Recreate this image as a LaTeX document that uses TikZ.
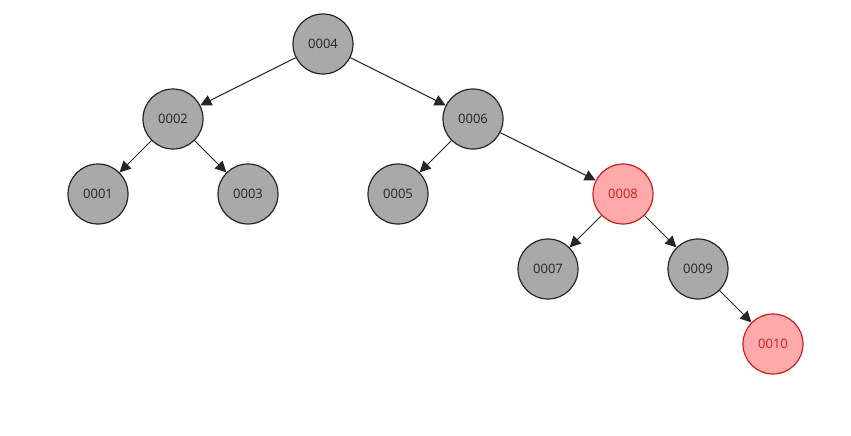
\documentclass[tikz,border=0pt]{standalone}
\usepackage{fontspec}
\setmainfont{Open Sans}
\usepackage{tikz}
\usetikzlibrary{positioning, arrows.meta}
\definecolor{nodeGray}{RGB}{169, 169, 169}
\definecolor{nodeRedFill}{RGB}{255, 170, 170}
\definecolor{nodeRed}{RGB}{200, 30, 30}

\begin{document}
\begin{tikzpicture}[
    x=1pt, y=-1pt,
    blk/.style={circle, draw=black!85, fill=nodeGray, minimum size=60pt, line width=1.2pt,
                inner sep=0pt, font=\fontsize{13}{14}\selectfont, text=black!85},
    red/.style={circle, draw=nodeRed, fill=nodeRedFill, minimum size=60pt, line width=1.2pt,
                inner sep=0pt, font=\fontsize{13}{14}\selectfont, text=nodeRed},
    arrow/.style={-{Triangle[length=11pt, width=11pt]}, black!85, line width=1pt},
  ]
    \useasboundingbox (0,0) rectangle (851,436);

    % root level
    \node[blk] (N4) at (323,44) {0004};

    % second level
    \node[blk] (N2) at (173,119) {0002};
    \node[blk] (N6) at (473,119) {0006};

    % third level
    \node[blk] (N1) at (98,194) {0001};
    \node[blk] (N3) at (248,194) {0003};
    \node[blk] (N5) at (398,194) {0005};
    \node[red] (N8) at (623,194) {0008};

    % fourth and fifth level
    \node[blk] (N7) at (548,269) {0007};
    \node[blk] (N9) at (698,269) {0009};
    \node[red] (N10) at (773,344) {0010};

    \draw[arrow] (N4) -- (N2);
    \draw[arrow] (N4) -- (N6);
    \draw[arrow] (N2) -- (N1);
    \draw[arrow] (N2) -- (N3);
    \draw[arrow] (N6) -- (N5);
    \draw[arrow] (N6) -- (N8);
    \draw[arrow] (N8) -- (N7);
    \draw[arrow] (N8) -- (N9);
    \draw[arrow] (N9) -- (N10);
  \end{tikzpicture}
\end{document}
